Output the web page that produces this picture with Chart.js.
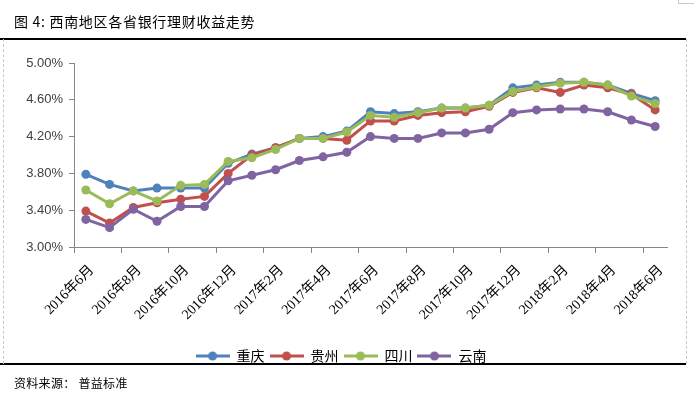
<!DOCTYPE html>
<html>
<head>
<meta charset="utf-8">
<script src="https://cdn.jsdelivr.net/npm/chart.js@4/dist/chart.umd.min.js"></script>
<style>
  html, body { margin: 0; padding: 0; background: #fff; }
  #wrap { position: relative; width: 694px; height: 399px; overflow: hidden; font-family: "Noto Sans CJK SC", sans-serif; color: #000; }
  #myChart { position: absolute; left: 0; top: 0; }
  .hr { position: absolute; left: 0; width: 686px; height: 2px; background: #000; }
  .vd { position: absolute; top: 39px; height: 325px; width: 0; border-left: 1px dashed #c8c8c8; }
  #title { position: absolute; left: 14px; top: 12px; font-size: 14px; line-height: 18px; letter-spacing: 0.7px; }
  #src { position: absolute; left: 14px; top: 375px; font-size: 12px; line-height: 16px; letter-spacing: 0.3px; }
  #corner { position: absolute; left: 678px; top: -1px; width: 20px; height: 3px; border: 1px solid #c8c8c8; }
</style>
</head>
<body>
<div id="wrap">
  <canvas id="myChart" width="694" height="399"></canvas>
  <div id="title">图 4: 西南地区各省银行理财收益走势</div>
  <div class="hr" style="top:38px"></div>
  <div class="hr" style="top:363px"></div>
  <div class="vd" style="left:3px"></div>
  <div class="vd" style="left:686px"></div>
  <div id="corner"></div>
  <div id="src">资料来源： 普益标准</div>
</div>
<script>
  // 2016年6月 .. 2018年6月, en verdi per måned
  const months = [
    '2016年6月', '2016年7月', '2016年8月', '2016年9月', '2016年10月', '2016年11月', '2016年12月',
    '2017年1月', '2017年2月', '2017年3月', '2017年4月', '2017年5月', '2017年6月', '2017年7月',
    '2017年8月', '2017年9月', '2017年10月', '2017年11月', '2017年12月', '2018年1月', '2018年2月',
    '2018年3月', '2018年4月', '2018年5月', '2018年6月'
  ];

  const seriesNames = ['重庆', '贵州', '四川', '云南'];
  const seriesColors = ['#4F81BD', '#C0504D', '#9BBB59', '#8064A2'];

  const chongqing = [3.79, 3.68, 3.61, 3.64, 3.64, 3.64, 3.91, 4.01, 4.08, 4.18, 4.20, 4.26, 4.47,
                     4.45, 4.47, 4.51, 4.51, 4.54, 4.73, 4.76, 4.79, 4.79, 4.76, 4.67, 4.59];
  const guizhou   = [3.39, 3.26, 3.43, 3.48, 3.52, 3.55, 3.80, 4.00, 4.08, 4.18, 4.18, 4.16, 4.37,
                     4.37, 4.43, 4.46, 4.47, 4.53, 4.68, 4.73, 4.68, 4.76, 4.73, 4.66, 4.49];
  const sichuan   = [3.62, 3.47, 3.61, 3.50, 3.67, 3.68, 3.93, 3.97, 4.06, 4.18, 4.18, 4.25, 4.43,
                     4.41, 4.46, 4.51, 4.51, 4.54, 4.69, 4.74, 4.78, 4.79, 4.76, 4.64, 4.56];
  const yunnan    = [3.30, 3.21, 3.41, 3.28, 3.44, 3.44, 3.72, 3.78, 3.84, 3.94, 3.98, 4.03, 4.20,
                     4.18, 4.18, 4.24, 4.24, 4.28, 4.46, 4.49, 4.50, 4.50, 4.47, 4.38, 4.31];

  const yTicks = [3.00, 3.40, 3.80, 4.20, 4.60, 5.00];

  // liten strek + sirkel som legend-ikon
  function legendIcon(color) {
    const c = document.createElement('canvas');
    c.width = 34;
    c.height = 10;
    const g = c.getContext('2d');
    g.strokeStyle = color;
    g.lineWidth = 3;
    g.beginPath(); g.moveTo(0, 5); g.lineTo(34, 5); g.stroke();
    g.fillStyle = color;
    g.beginPath(); g.arc(17, 5, 4.5, 0, Math.PI * 2); g.fill();
    return c;
  }
  const icons = seriesColors.map(legendIcon);

  function makeDataset(i, values) {
    return {
      label: seriesNames[i],
      data: values,
      borderColor: seriesColors[i],
      backgroundColor: seriesColors[i],
      pointBackgroundColor: seriesColors[i],
      pointBorderWidth: 0,
      pointRadius: 4.5,
      borderWidth: 3,
      tension: 0,
      order: 4 - i   // siste serie tegnes øverst, som i Excel
    };
  }

  const ctx = document.getElementById('myChart').getContext('2d');
  new Chart(ctx, {
    type: 'line',
    data: {
      labels: months,
      datasets: [
        makeDataset(0, chongqing),
        makeDataset(1, guizhou),
        makeDataset(2, sichuan),
        makeDataset(3, yunnan)
      ]
    },
    options: {
      responsive: false,
      animation: false,
      layout: { padding: { top: 63, right: 27, bottom: 26, left: 15 } },
      plugins: {
        tooltip: { enabled: false },
        legend: {
          position: 'bottom',
          labels: {
            usePointStyle: true,
            pointStyleWidth: 34,
            boxHeight: 10,
            padding: 5,
            color: '#000',
            font: { family: '"Noto Sans CJK SC"', size: 14 },
            generateLabels(chart) {
              const items = Chart.defaults.plugins.legend.labels.generateLabels(chart);
              items.forEach(it => { it.pointStyle = icons[it.datasetIndex]; });
              return items;
            },
            sort: (a, b) => a.datasetIndex - b.datasetIndex
          }
        }
      },
      scales: {
        x: {
          offset: true,
          grid: {
            offset: true,
            drawOnChartArea: false,
            tickLength: 6,
            tickColor: c => (c.index % 2 === 0 ? '#868686' : 'rgba(0,0,0,0)')
          },
          border: { color: '#868686' },
          ticks: {
            autoSkip: false,
            minRotation: 45,
            maxRotation: 45,
            padding: 9,
            labelOffset: 6,
            color: '#000',
            font: { family: '"Liberation Serif", "Noto Sans CJK SC"', size: 14 },
            callback: function (value, index) {
              return index % 2 === 0 ? this.getLabelForValue(value) : '';
            }
          },
          afterFit(scale) { scale.height = 97; }
        },
        y: {
          min: yTicks[0],
          max: yTicks[yTicks.length - 1],
          afterBuildTicks(scale) { scale.ticks = yTicks.map(v => ({ value: v })); },
          grid: { drawOnChartArea: false, tickLength: 5, color: '#868686' },
          border: { color: '#868686' },
          ticks: {
            padding: 6,
            color: '#404040',
            font: { family: '"Liberation Sans"', size: 13 },
            callback: v => v.toFixed(2) + '%'
          },
          afterFit(scale) { scale.width = 59; }
        }
      }
    }
  });
</script>
</body>
</html>
